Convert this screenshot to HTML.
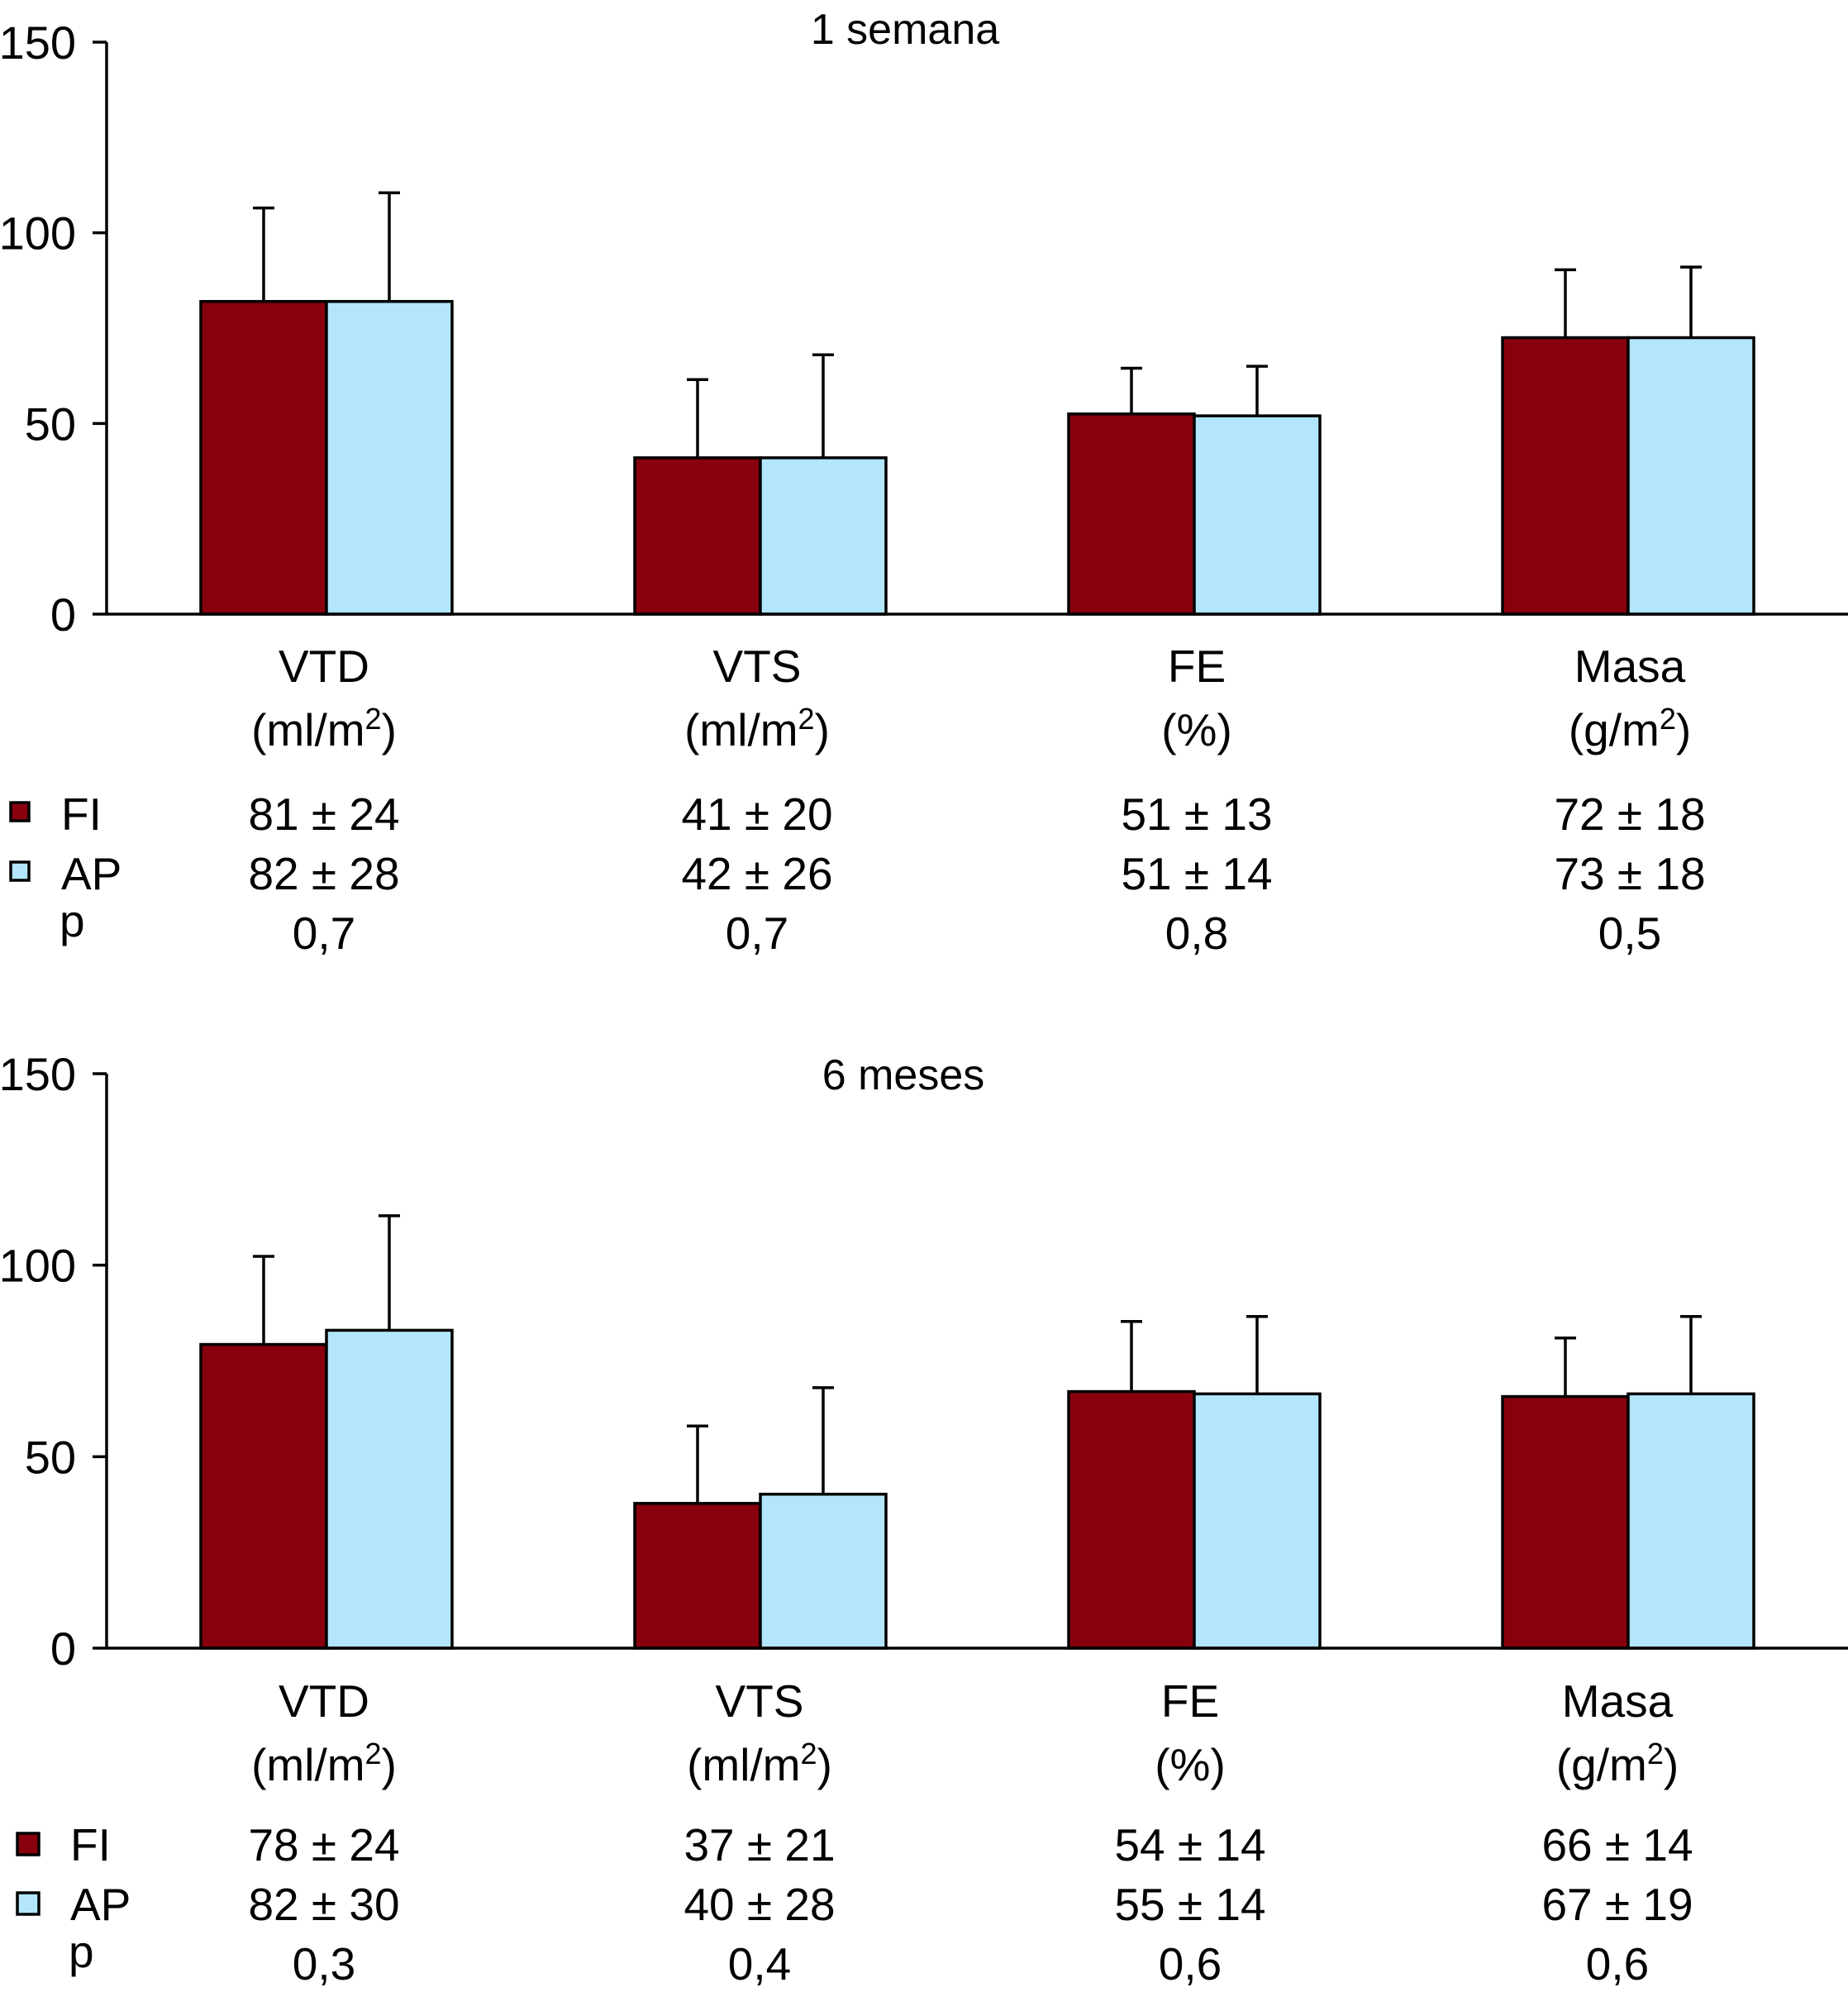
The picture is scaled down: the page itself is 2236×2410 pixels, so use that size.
<!DOCTYPE html>
<html><head><meta charset="utf-8"><style>
html,body{margin:0;padding:0;background:#fff}
svg{display:block}
text{font-family:"Liberation Sans",Arial,sans-serif;fill:#000}
</style></head><body>
<svg id="c" width="2236" height="2410" viewBox="0 0 2236 2410" xmlns="http://www.w3.org/2000/svg"></svg>
<script>
const categories = ["VTD","VTS","FE","Masa"];
const unitBase = ["(ml/m","(ml/m","(%)","(g/m"];
const unitSup = ["2","2","",  "2"];
const unitEnd = [")",")","",")"];
const yTicks = [0,50,100,150];
// panel 1 (1 semana)
const p1FI = [82,41,52.5,72.5];
const p1FIerr = [106.5,61.5,64.5,90.3];
const p1AP = [82,41,52,72.5];
const p1APerr = [110.5,68,65,91];
const p1FIlabel = ["81 ± 24","41 ± 20","51 ± 13","72 ± 18"];
const p1APlabel = ["82 ± 28","42 ± 26","51 ± 14","73 ± 18"];
const p1P = ["0,7","0,7","0,8","0,5"];
// panel 2 (6 meses)
const p2FI = [79.3,37.8,67,65.7];
const p2FIerr = [102.3,58,85.3,81];
const p2AP = [83,40.2,66.4,66.4];
const p2APerr = [112.9,68,86.6,86.6];
const p2FIlabel = ["78 ± 24","37 ± 21","54 ± 14","66 ± 14"];
const p2APlabel = ["82 ± 30","40 ± 28","55 ± 14","67 ± 19"];
const p2P = ["0,3","0,4","0,6","0,6"];

const svg = document.getElementById('c');
const NS = "http://www.w3.org/2000/svg";
function mk(tag, attrs, parent){const e=document.createElementNS(NS,tag);for(const k in attrs)e.setAttribute(k,attrs[k]);(parent||svg).appendChild(e);return e;}
function txt(s,x,y,size,anchor,parent){const t=mk('text',{x:x,y:y,'font-size':size,'text-anchor':anchor||'middle'},parent);t.textContent=s;return t;}
const FS=55;
function panel(cfg){
  const g = mk('g',{});
  
  
  const y0=cfg.y0, y150=cfg.y150, ax=129;
  const y = v => y0 - (v/150)*(y0-y150);
  const groupLeft = i => 243 + i*525;
  const bw = 152;
  const t = txt(cfg.title, cfg.titleX, cfg.titleY, 52, 'middle', g);
  
  
  categories.forEach((c,i)=>{
    const L=groupLeft(i);
    [[cfg.fi,cfg.fiErr,'#88000d',L],[cfg.ap,cfg.apErr,'#b3e6fc',L+bw]].forEach((s,k)=>{
      const ex=s[3]+bw/2;
      const el=mk('line',{x1:ex,x2:ex,y1:y(s[0][i]),y2:y(s[1][i]),stroke:'#000','stroke-width':3.5},g);
      
      
      const cap=mk('line',{x1:ex-13,x2:ex+13,y1:y(s[1][i]),y2:y(s[1][i]),stroke:'#000','stroke-width':3.5},g);
      
      
      const r=mk('rect',{x:s[3],y:y(s[0][i]),width:bw,height:y0-y(s[0][i]),fill:s[2],stroke:'#000','stroke-width':3.5},g);
      
      
    });
    const cx=groupLeft(i)+bw+cfg.dx[i];
    const a=txt(c,cx,cfg.catY,FS,'middle',g);
    
    
    const u=mk('text',{x:cx,y:cfg.catY+77,'font-size':FS,'text-anchor':'middle'},g);
    
    
    const t1=mk('tspan',{},u); t1.textContent=unitBase[i];
    if(unitSup[i]){const t2=mk('tspan',{'font-size':36,dy:-20},u); t2.textContent=unitSup[i];
      const t3=mk('tspan',{dy:20},u); t3.textContent=unitEnd[i];}
    const v1=txt(cfg.fiL[i],cx,cfg.valY,FS,'middle',g);
    
    
    const v2=txt(cfg.apL[i],cx,cfg.valY+72,FS,'middle',g);
    
    
    const v3=txt(cfg.p[i],cx,cfg.valY+144,FS,'middle',g);
    
    
  });
  const ya=mk('line',{x1:ax,x2:ax,y1:y150,y2:y0,stroke:'#000','stroke-width':3.5},g);
  
  
  const xa=mk('line',{x1:ax,x2:2236,y1:y0,y2:y0,stroke:'#000','stroke-width':3.5},g);
  
  
  yTicks.forEach(v=>{
    const tk=mk('line',{x1:112,x2:ax,y1:y(v),y2:y(v),stroke:'#000','stroke-width':3.5},g);
    
    
    const tl=txt(String(v),92,y(v)+20,56,'end',g);
    
    
  });
  const lx=cfg.legX, sq=cfg.sq;
  const s1=mk('rect',{x:lx,y:cfg.valY-33,width:sq,height:sq,fill:'#88000d',stroke:'#000','stroke-width':3.5},g);
  
  
  const l1=txt('FI',cfg.legTX,cfg.valY,FS,'start',g);
  
  
  const s2=mk('rect',{x:lx,y:cfg.valY+72-33,width:sq,height:sq,fill:'#b3e6fc',stroke:'#000','stroke-width':3.5},g);
  
  
  const l2=txt('AP',cfg.legTX,cfg.valY+72,FS,'start',g);
  
  
  const l3=txt('p',cfg.legTX-2,cfg.valY+129,FS,'start',g);
  
  
}
panel({name:'panel-1-semana',title:'1 semana',titleX:1095,titleY:53,y0:743,y150:51,
  fi:p1FI,fiErr:p1FIerr,ap:p1AP,apErr:p1APerr,fiL:p1FIlabel,apL:p1APlabel,p:p1P,
  catY:825,valY:1004,dx:[-3,-4,3,2],legX:13,legTX:74,sq:22});
panel({name:'panel-6-meses',title:'6 meses',titleX:1093,titleY:1318,y0:1994,y150:1299,
  fi:p2FI,fiErr:p2FIerr,ap:p2AP,apErr:p2APerr,fiL:p2FIlabel,apL:p2APlabel,p:p2P,
  catY:2077,valY:2251,dx:[-3,-1,-5,-13],legX:21,legTX:85,sq:26});
</script>
</body></html>
